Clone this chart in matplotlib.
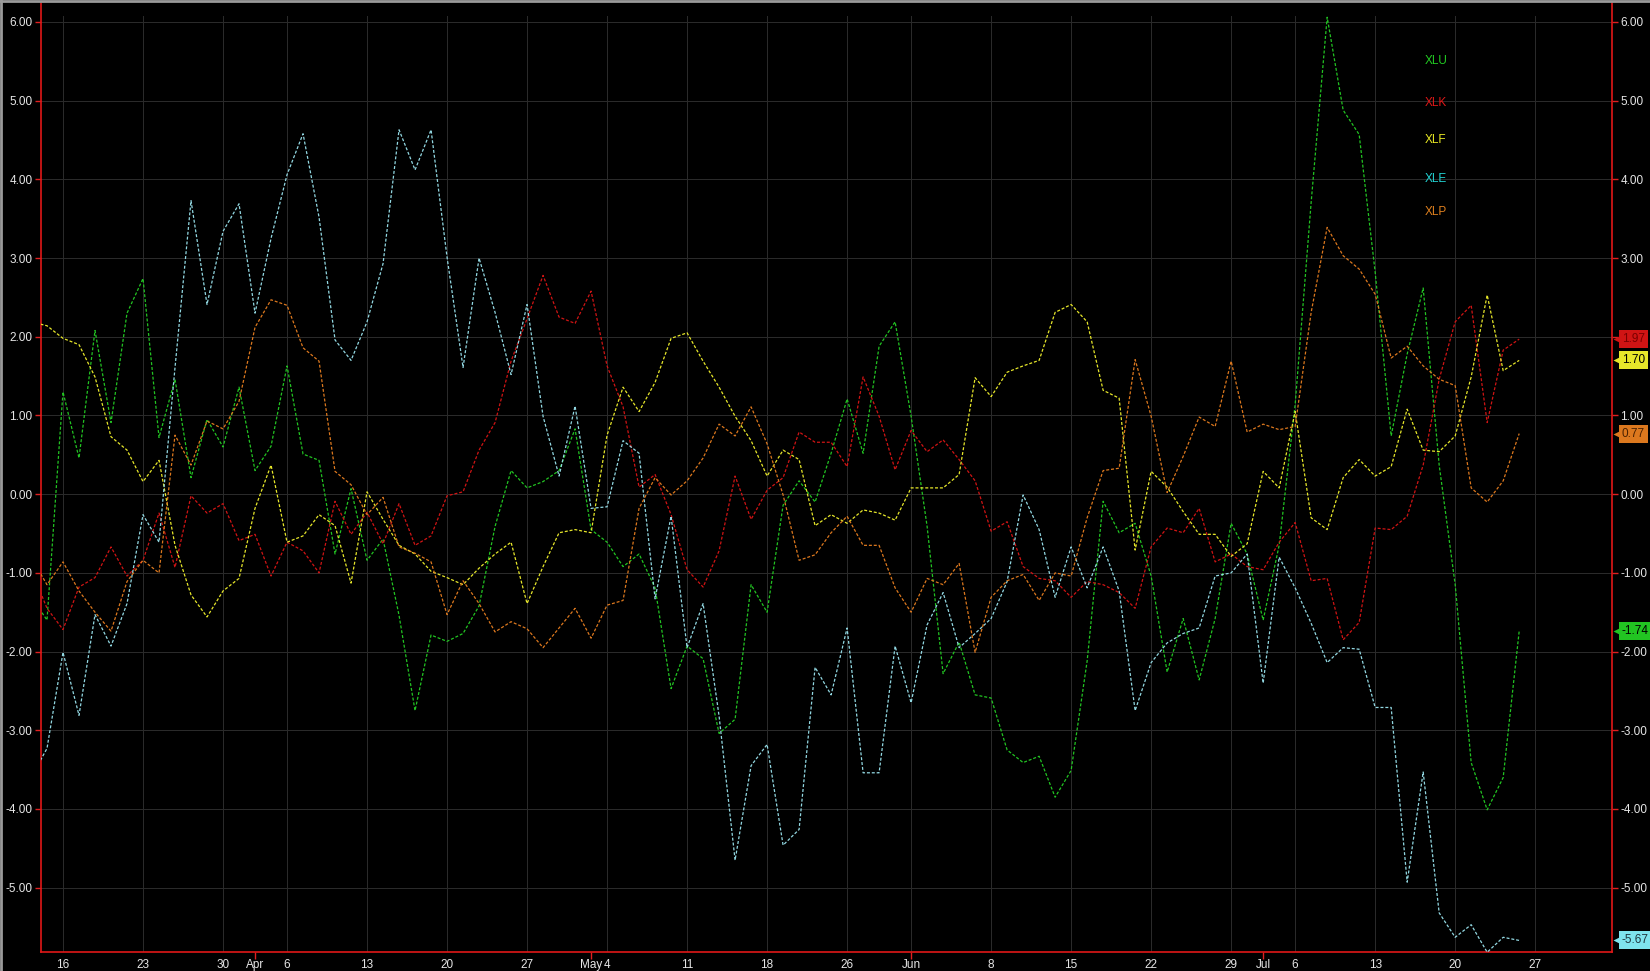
import numpy as np
import pandas as pd
import matplotlib
matplotlib.use('Agg')
import matplotlib.pyplot as plt
import matplotlib.transforms as mtransforms
from matplotlib.lines import Line2D

plt.rcParams['font.family'] = ['Liberation Sans Narrow', 'Liberation Sans', 'DejaVu Sans']

# trading days (2015), US market holidays removed
holidays = ['2015-04-03', '2015-05-25', '2015-07-03']
days = pd.bdate_range('2015-03-09', '2015-08-07', freq='C', holidays=holidays)
data_start, data_end = '2015-03-12', '2015-07-24'

tickers = ['XLU', 'XLK', 'XLF', 'XLE', 'XLP']
line_colors = ['#22c422', '#d01414', '#e6e62a', '#92d8e2', '#dc781e']
label_colors = ['#22cc22', '#e01818', '#eaea24', '#22d4d4', '#e0801e']
box_text = ['#000000', '#7a0000', '#000000', '#203840', '#4a2000']

# relative performance, daily closes 12 Mar -> 24 Jul
xlu = [-1.30, -1.60, 1.30, 0.46, 2.08, 0.91, 2.30, 2.74, 0.72, 1.46, 0.21, 0.95, 0.60, 1.36,
       0.30, 0.61, 1.63, 0.51, 0.43, -0.76, 0.07, -0.84, -0.57, -1.54, -2.75, -1.79, -1.87,
       -1.77, -1.42, -0.41, 0.30, 0.08, 0.16, 0.30, 0.83, -0.45, -0.61, -0.92, -0.76, -1.19,
       -2.47, -1.93, -2.09, -3.04, -2.86, -1.15, -1.50, -0.14, 0.17, -0.10, 0.52, 1.21, 0.52,
       1.88, 2.19, 0.99, -0.41, -2.28, -1.88, -2.55, -2.59, -3.25, -3.41, -3.33, -3.85, -3.51,
       -2.12, -0.09, -0.49, -0.37, -1.04, -2.26, -1.58, -2.36, -1.58, -0.37, -0.76, -1.60,
       -0.65, 1.14, 3.71, 6.06, 4.88, 4.57, 2.82, 0.74, 1.78, 2.62, 0.37, -1.15, -3.41, -4.01,
       -3.60, -1.74]
xlk = [-0.95, -1.45, -1.72, -1.18, -1.06, -0.67, -1.04, -0.84, -0.24, -0.93, -0.02, -0.24,
       -0.12, -0.59, -0.51, -1.04, -0.61, -0.72, -1.00, -0.09, -0.51, -0.23, -0.63, -0.12,
       -0.65, -0.53, -0.02, 0.03, 0.56, 0.91, 1.69, 2.23, 2.78, 2.25, 2.17, 2.58, 1.63, 1.11,
       0.09, 0.25, -0.26, -0.96, -1.18, -0.72, 0.23, -0.32, 0.05, 0.21, 0.79, 0.66, 0.66, 0.35,
       1.49, 0.99, 0.31, 0.81, 0.54, 0.69, 0.44, 0.17, -0.47, -0.35, -0.92, -1.07, -1.10,
       -1.31, -1.11, -1.15, -1.25, -1.45, -0.67, -0.43, -0.49, -0.18, -0.86, -0.76, -0.92,
       -0.96, -0.61, -0.36, -1.10, -1.07, -1.85, -1.63, -0.43, -0.45, -0.28, 0.37, 1.46, 2.19,
       2.40, 0.91, 1.83, 1.97]
xlf = [2.19, 2.14, 1.98, 1.90, 1.49, 0.73, 0.56, 0.16, 0.43, -0.65, -1.28, -1.56, -1.23, -1.07,
       -0.18, 0.37, -0.61, -0.53, -0.26, -0.40, -1.13, 0.03, -0.32, -0.65, -0.76, -0.98, -1.06,
       -1.15, -0.94, -0.76, -0.61, -1.39, -0.92, -0.49, -0.45, -0.49, 0.75, 1.36, 1.05, 1.42,
       1.98, 2.05, 1.69, 1.36, 0.99, 0.68, 0.23, 0.56, 0.44, -0.40, -0.26, -0.37, -0.20, -0.24,
       -0.33, 0.08, 0.08, 0.08, 0.25, 1.48, 1.24, 1.55, 1.63, 1.70, 2.31, 2.41, 2.19, 1.32,
       1.22, -0.71, 0.29, 0.09, -0.22, -0.51, -0.51, -0.79, -0.63, 0.29, 0.08, 1.05, -0.30,
       -0.45, 0.21, 0.44, 0.23, 0.35, 1.08, 0.56, 0.54, 0.74, 1.49, 2.53, 1.57, 1.70]
xle = [-3.60, -3.23, -2.01, -2.81, -1.53, -1.93, -1.39, -0.26, -0.61, 1.61, 3.73, 2.41, 3.34,
       3.69, 2.30, 3.25, 4.06, 4.58, 3.52, 1.96, 1.70, 2.19, 2.93, 4.63, 4.12, 4.63, 3.01, 1.61,
       3.00, 2.31, 1.52, 2.41, 0.99, 0.23, 1.12, -0.18, -0.16, 0.68, 0.52, -1.33, -0.28, -1.95,
       -1.39, -2.82, -4.65, -3.45, -3.18, -4.46, -4.26, -2.20, -2.55, -1.70, -3.54, -3.54,
       -1.93, -2.65, -1.66, -1.25, -1.95, -1.77, -1.58, -1.11, -0.01, -0.45, -1.31, -0.67,
       -1.19, -0.67, -1.23, -2.75, -2.14, -1.89, -1.77, -1.70, -1.04, -1.00, -0.76, -2.40,
       -0.80, -1.19, -1.64, -2.14, -1.95, -1.97, -2.71, -2.71, -4.93, -3.53, -5.32, -5.63,
       -5.47, -5.82, -5.63, -5.67]
xlp = [-0.80, -1.15, -0.86, -1.23, -1.50, -1.74, -1.11, -0.84, -1.00, 0.75, 0.37, 0.93, 0.83,
       1.18, 2.12, 2.47, 2.40, 1.86, 1.69, 0.29, 0.12, -0.26, -0.04, -0.67, -0.75, -0.86, -1.53,
       -1.10, -1.39, -1.75, -1.62, -1.71, -1.95, -1.70, -1.45, -1.83, -1.41, -1.35, -0.18, 0.21,
       -0.01, 0.17, 0.46, 0.89, 0.74, 1.11, 0.64, -0.01, -0.84, -0.77, -0.49, -0.28, -0.65,
       -0.65, -1.19, -1.50, -1.07, -1.15, -0.88, -2.01, -1.31, -1.10, -1.02, -1.35, -1.00,
       -1.04, -0.30, 0.30, 0.33, 1.71, 0.99, 0.02, 0.48, 0.98, 0.86, 1.69, 0.79, 0.89, 0.82,
       0.86, 2.31, 3.39, 3.03, 2.86, 2.54, 1.73, 1.88, 1.63, 1.46, 1.38, 0.08, -0.10, 0.17, 0.77]
series = [xlu, xlk, xlf, xle, xlp]

pos = np.arange(len(days)) - days.get_loc(pd.Timestamp('2015-03-16'))
mask = (days >= data_start) & (days <= data_end)
xs = pos[mask]

fig = plt.figure(figsize=(16.5, 9.71), dpi=100, facecolor='black')
ax = fig.add_axes([41 / 1650, 1 - 952 / 971, (1612 - 41) / 1650, (952 - 3) / 971])
ax.set_facecolor('black')

for name, vals, c in zip(tickers, series, line_colors):
    ax.plot(xs, vals, color=c, lw=0.9, dashes=(2.4, 1.5), zorder=3)

# x ticks: first trading day of each week (minor) and of each month (major)
week_first = [0] + [i for i in range(1, len(days)) if days[i].isocalendar()[1] != days[i - 1].isocalendar()[1]]
month_first = [i for i in range(1, len(days)) if days[i].month != days[i - 1].month]
ax.xaxis.remove_overlapping_locs = False
ax.set_xticks(pos[month_first])
ax.set_xticklabels([days[i].strftime('%b') for i in month_first])
ax.set_xticks(pos[week_first], minor=True)
ax.set_xticklabels(['' if i in month_first else str(days[i].day) for i in week_first], minor=True)
ax.tick_params(axis='x', which='major', colors='#e02020', length=5, width=1,
               labelcolor='#e6e6e6', labelsize=8.5, pad=0)
ax.tick_params(axis='x', which='minor', length=0, labelcolor='#e6e6e6', labelsize=8.5, pad=5)
# weekly grid lines stop a little short of the top
for p in pos[week_first]:
    ax.axvline(p, ymax=0.986, color='#2a2a2a', lw=0.75, zorder=1)

yt = np.arange(-5, 7)
ax.set_yticks(yt)
ax.set_yticklabels([f'{v:.2f}' for v in yt])
ax.grid(axis='y', which='major', color='#2a2a2a', lw=0.75)
ax.tick_params(axis='y', colors='#e02020', length=4, width=1, labelcolor='#e6e6e6',
               labelsize=8.5, left=True, right=True, labelleft=True, labelright=True, pad=2)

ax.set_xlim(-1.375, 96.8)
ax.set_ylim(-5.817, 6.241)

for side in ['left', 'right', 'bottom']:
    ax.spines[side].set_color('#e01818')
    ax.spines[side].set_linewidth(1.2)
ax.spines['top'].set_visible(False)

# legend text, top right inside plot
leg_y = [0.939, 0.895, 0.856, 0.815, 0.780]
for name, c, yy in zip(tickers, label_colors, leg_y):
    ax.text(0.881, yy, name, color=c, fontsize=8.5, transform=ax.transAxes, va='center', ha='left')

# last-value boxes on the right axis
trans = mtransforms.blended_transform_factory(ax.transAxes, ax.transData)
tri = trans + mtransforms.ScaledTranslation(5 / 72, 0, fig.dpi_scale_trans)
for vals, c, tc in zip(series, line_colors, box_text):
    v = vals[-1]
    bc = c if c != '#92d8e2' else '#7fe4ee'
    ax.plot([1], [v], marker='<', ms=8, mec='none', color=bc, transform=tri, clip_on=False, zorder=4)
    ax.annotate(f'{v:.2f}', xy=(1, v), xycoords=trans, xytext=(7, 0), textcoords='offset points',
                ha='left', va='center', fontsize=8.5, color=tc, zorder=5, annotation_clip=False,
                bbox=dict(boxstyle='square,pad=0.25', fc=bc, ec='none'))

# gray window border, top and left
fig.add_artist(Line2D([0, 1], [0.999, 0.999], transform=fig.transFigure, color='#9a9a9a', lw=2))
fig.add_artist(Line2D([0.0007, 0.0007], [0, 1], transform=fig.transFigure, color='#9a9a9a', lw=2))

fig.savefig('out.png', dpi=100, facecolor='black')
